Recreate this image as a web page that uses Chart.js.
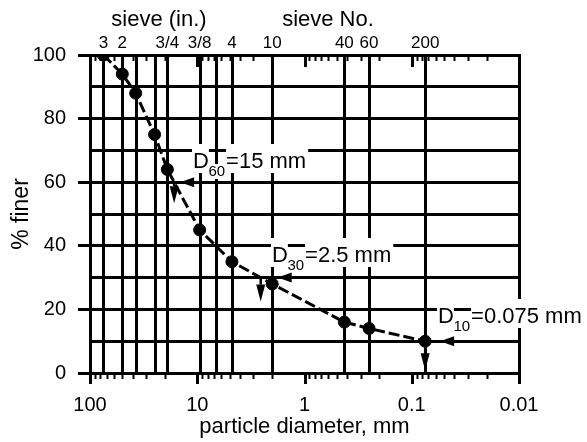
<!DOCTYPE html>
<html>
<head>
<meta charset="utf-8">
<script src="https://cdn.jsdelivr.net/npm/chart.js@4.4.1/dist/chart.umd.min.js"></script>
<style>
	html, body { margin: 0; padding: 0; background: #fff; }
	canvas { display: block; }
</style>
</head>
<body>
<canvas id="graficoGranulometria" width="587" height="442"></canvas>
<script>
// grain size curve
var diameters = [75, 50, 37.5, 25, 19, 9.5, 4.75, 2.0, 0.425, 0.25, 0.075];
var percentFiner = [100, 94, 88, 75, 64, 45, 35, 28, 16, 14, 10];

// sieve openings (mm) - vertical lines, labels on the top axis
var sieveOpenings = [75, 50, 37.5, 25, 19, 9.5, 6.7, 4.75, 2.0, 0.425, 0.25, 0.075];
var sieveLabels = ['3', '2', '', '', '3/4', '3/8', '', '4', '10', '40', '60', '200'];
var sieveTitles = ['sieve (in.)', 'sieve No.'];

var diameterTicks = [100, 10, 1, 0.1, 0.01];
var diameterTickLabels = ['100', '10', '1', '0.1', '0.01'];

// D60 / D30 / D10
var dPercents = [60, 30, 10];
var dNames = ['60', '30', '10'];
var dValues = ['=15 mm', '=2.5 mm', '=0.075 mm'];

var FONT = '"Liberation Sans", Arial, Helvetica, sans-serif';

var Granulometria = Granulometria || {};

Granulometria.Desenho = (function() {

	var titlePos = [{x: 159, y: 20}, {x: 328, y: 20}];

	// label anchor, arrow tip gap from the curve, arrow tail, drop of the vertical arrow
	var notePos = [
		{x: 193, base: 168, gap: 6, tail: 235, drop: 21},
		{x: 272, base: 262, gap: 17, tail: 310, drop: 24},
		{x: 438, base: 323, gap: 15, tail: 519, drop: 29}
	];

	function line(ctx, x1, y1, x2, y2) {
		ctx.beginPath();
		ctx.moveTo(x1, y1);
		ctx.lineTo(x2, y2);
		ctx.stroke();
	}

	function arrow(ctx, x1, y1, x2, y2, len, hw) {
		var a = Math.atan2(y2 - y1, x2 - x1);
		var bx = x2 - len * Math.cos(a);
		var by = y2 - len * Math.sin(a);
		line(ctx, x1, y1, bx, by);
		ctx.beginPath();
		ctx.moveTo(x2, y2);
		ctx.lineTo(bx - hw * Math.sin(a), by + hw * Math.cos(a));
		ctx.lineTo(bx + hw * Math.sin(a), by - hw * Math.cos(a));
		ctx.closePath();
		ctx.fill();
	}

	// where the curve crosses a given percent, in pixels
	function crossing(xs, p) {
		for (var i = 0; i < diameters.length - 1; i++) {
			var p0 = percentFiner[i], p1 = percentFiner[i + 1];
			if (p <= p0 && p >= p1) {
				var x0 = xs.getPixelForValue(diameters[i]);
				var x1 = xs.getPixelForValue(diameters[i + 1]);
				return x0 + (p0 - p) / (p0 - p1) * (x1 - x0);
			}
		}
		return xs.getPixelForValue(diameters[diameters.length - 1]);
	}

	var grade = {
		id: 'grade',
		beforeDatasetsDraw: function(chart) {
			var ctx = chart.ctx, area = chart.chartArea, xs = chart.scales.x;
			ctx.save();
			ctx.strokeStyle = '#000';
			ctx.fillStyle = '#000';
			ctx.lineWidth = 3;

			sieveOpenings.forEach(function(d) {
				var px = Math.round(xs.getPixelForValue(d)) + 0.5;
				line(ctx, px, area.top, px, area.bottom);
			});

			// log ticks, outward at the bottom, inward at the top
			for (var e = -2; e <= 2; e++) {
				for (var n = 1; n <= 9; n++) {
					var v = n * Math.pow(10, e);
					if (v > 100.0001) break;
					var px = Math.round(xs.getPixelForValue(v)) + 0.5;
					var major = n === 1;
					ctx.lineWidth = major ? 3 : 2;
					line(ctx, px, area.bottom, px, area.bottom + (major ? 11 : 6));
					line(ctx, px, area.top, px, area.top + (major ? 12 : 6));
				}
			}

			ctx.lineWidth = 3;
			ctx.strokeRect(Math.round(area.left) + 0.5, Math.round(area.top) + 0.5,
				Math.round(area.right - area.left), Math.round(area.bottom - area.top));

			ctx.font = '22px ' + FONT;
			ctx.textAlign = 'center';
			ctx.textBaseline = 'middle';
			sieveTitles.forEach(function(t, i) {
				ctx.fillText(t, titlePos[i].x, titlePos[i].y);
			});
			ctx.restore();
		},
		afterDatasetsDraw: function(chart) {
			var ctx = chart.ctx, xs = chart.scales.x, ys = chart.scales.y;
			var big = '22px ' + FONT, small = '15px ' + FONT;
			ctx.save();
			ctx.textAlign = 'left';
			ctx.textBaseline = 'alphabetic';

			dPercents.forEach(function(p, i) {
				var s = notePos[i];
				ctx.font = big;
				var wD = ctx.measureText('D').width;
				var subX = s.x + wD - 0.5;
				ctx.font = small;
				var wS = ctx.measureText(dNames[i]).width;
				var eqX = subX + wS + 1;
				ctx.font = big;
				var wE = ctx.measureText(dValues[i]).width;

				ctx.fillStyle = '#fff';
				ctx.fillRect(s.x - 1, s.base - 24, wD + 1, 29);
				ctx.fillRect(subX, s.base - 4, wS, 15);
				ctx.fillRect(eqX, s.base - 24, wE + 2, 29);

				ctx.fillStyle = '#000';
				ctx.font = big;
				ctx.fillText('D', s.x, s.base);
				ctx.fillText(dValues[i], eqX, s.base);
				ctx.font = small;
				ctx.fillText(dNames[i], subX, s.base + 8);

				var cx = crossing(xs, p);
				var py = ys.getPixelForValue(p);
				ctx.strokeStyle = '#000';
				ctx.lineWidth = 2.5;
				arrow(ctx, s.tail, py, cx + s.gap, py, 14, 5);
				arrow(ctx, cx, py, cx, py + s.drop, 17, 4.5);
			});
			ctx.restore();
		}
	};

	function Desenho() {
		this.ctx = document.getElementById('graficoGranulometria').getContext('2d');
	}

	Desenho.prototype.iniciar = function() {
		var pontos = diameters.map(function(d, i) {
			return {x: d, y: percentFiner[i]};
		});

		new Chart(this.ctx, {
			type: 'scatter',
			data: {
				datasets: [{
					data: pontos,
					showLine: true,
					borderColor: '#000',
					borderWidth: 3,
					borderDash: [11, 4],
					pointRadius: 6,
					pointBorderWidth: 1,
					pointBackgroundColor: '#000',
					pointBorderColor: '#000'
				}]
			},
			options: {
				responsive: false,
				animation: false,
				layout: { padding: {left: 0, right: 68, top: 0, bottom: 0} },
				plugins: { legend: {display: false}, tooltip: {enabled: false} },
				scales: {
					x: {
						type: 'logarithmic',
						position: 'bottom',
						min: 0.01,
						max: 100,
						reverse: true,
						afterBuildTicks: function(scale) {
							scale.ticks = diameterTicks.map(function(v) { return {value: v}; });
						},
						afterFit: function(scale) { scale.height = 69; },
						grid: {display: false, drawTicks: false},
						border: {display: false},
						ticks: {
							autoSkip: false,
							maxRotation: 0,
							padding: 20,
							color: '#000',
							font: {family: FONT, size: 20},
							callback: function(v, i) { return diameterTickLabels[i]; }
						},
						title: {
							display: true,
							text: 'particle diameter, mm',
							color: '#000',
							font: {family: FONT, size: 22},
							padding: {top: 0, bottom: 2}
						}
					},
					xTop: {
						type: 'logarithmic',
						position: 'top',
						min: 0.01,
						max: 100,
						reverse: true,
						afterBuildTicks: function(scale) {
							scale.ticks = sieveOpenings.map(function(v) { return {value: v}; });
						},
						afterFit: function(scale) { scale.height = 55; },
						grid: {display: false, drawTicks: false},
						border: {display: false},
						ticks: {
							autoSkip: false,
							maxRotation: 0,
							padding: 1,
							color: '#000',
							font: {family: FONT, size: 17},
							callback: function(v, i) { return sieveLabels[i]; }
						}
					},
					y: {
						min: 0,
						max: 100,
						afterFit: function(scale) { scale.width = 90; },
						grid: {
							color: '#000',
							lineWidth: 3,
							tickLength: 12,
							tickWidth: 3,
							tickColor: function(c) { return c.tick && c.tick.value % 20 === 0 ? '#000' : 'rgba(0,0,0,0)'; }
						},
						border: {display: true, color: '#000', width: 3},
						ticks: {
							stepSize: 10,
							padding: 12,
							color: '#000',
							font: {family: FONT, size: 20},
							callback: function(v) { return v % 20 === 0 ? String(v) : ''; }
						},
						title: {
							display: true,
							text: '% finer',
							color: '#000',
							font: {family: FONT, size: 23},
							padding: {top: 8, bottom: 0}
						}
					}
				}
			},
			plugins: [grade]
		});
	};

	return Desenho;

}());

var desenho = new Granulometria.Desenho();
desenho.iniciar();
</script>
</body>
</html>
